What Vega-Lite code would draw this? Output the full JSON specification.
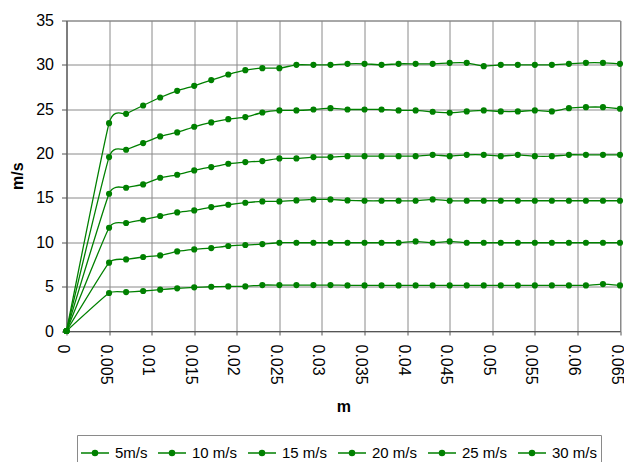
{
  "$schema": "https://vega.github.io/schema/vega-lite/v6.json",
  "autosize": {"type": "none"},
  "padding": {"left": 66.5, "top": 20.5, "right": 4, "bottom": 131},
  "width": 553.5,
  "height": 310.5,
  "background": "#ffffff",
  "config": {
    "font": "Liberation Sans",
    "view": {"stroke": "#8a8a8a", "strokeWidth": 1},
    "axis": {
      "labelFont": "Liberation Sans",
      "labelFontSize": 16,
      "labelColor": "#000000",
      "titleFont": "Liberation Sans",
      "titleFontSize": 16,
      "titleFontWeight": "bold",
      "titleColor": "#000000",
      "gridColor": "#8a8a8a",
      "gridOpacity": 1,
      "gridWidth": 1,
      "domainColor": "#555555",
      "tickColor": "#555555",
      "tickSize": 5
    }
  },
  "data": {
    "values": [
      {"m": 0, "series": "5m/s", "v": 0},
      {"m": 0.005, "series": "5m/s", "v": 4.28},
      {"m": 0.007, "series": "5m/s", "v": 4.39},
      {"m": 0.009, "series": "5m/s", "v": 4.51},
      {"m": 0.011, "series": "5m/s", "v": 4.66},
      {"m": 0.013, "series": "5m/s", "v": 4.81},
      {"m": 0.015, "series": "5m/s", "v": 4.92},
      {"m": 0.017, "series": "5m/s", "v": 4.99},
      {"m": 0.019, "series": "5m/s", "v": 5.03},
      {"m": 0.021, "series": "5m/s", "v": 5.03},
      {"m": 0.023, "series": "5m/s", "v": 5.18},
      {"m": 0.025, "series": "5m/s", "v": 5.18},
      {"m": 0.027, "series": "5m/s", "v": 5.18},
      {"m": 0.029, "series": "5m/s", "v": 5.18},
      {"m": 0.031, "series": "5m/s", "v": 5.18},
      {"m": 0.033, "series": "5m/s", "v": 5.14},
      {"m": 0.035, "series": "5m/s", "v": 5.14},
      {"m": 0.037, "series": "5m/s", "v": 5.14},
      {"m": 0.039, "series": "5m/s", "v": 5.14},
      {"m": 0.041, "series": "5m/s", "v": 5.14},
      {"m": 0.043, "series": "5m/s", "v": 5.14},
      {"m": 0.045, "series": "5m/s", "v": 5.14},
      {"m": 0.047, "series": "5m/s", "v": 5.14},
      {"m": 0.049, "series": "5m/s", "v": 5.14},
      {"m": 0.051, "series": "5m/s", "v": 5.14},
      {"m": 0.053, "series": "5m/s", "v": 5.14},
      {"m": 0.055, "series": "5m/s", "v": 5.14},
      {"m": 0.057, "series": "5m/s", "v": 5.14},
      {"m": 0.059, "series": "5m/s", "v": 5.14},
      {"m": 0.061, "series": "5m/s", "v": 5.14},
      {"m": 0.063, "series": "5m/s", "v": 5.29},
      {"m": 0.065, "series": "5m/s", "v": 5.14},

      {"m": 0, "series": "10 m/s", "v": 0},
      {"m": 0.005, "series": "10 m/s", "v": 7.70},
      {"m": 0.007, "series": "10 m/s", "v": 8.07},
      {"m": 0.009, "series": "10 m/s", "v": 8.34},
      {"m": 0.011, "series": "10 m/s", "v": 8.52},
      {"m": 0.013, "series": "10 m/s", "v": 8.97},
      {"m": 0.015, "series": "10 m/s", "v": 9.20},
      {"m": 0.017, "series": "10 m/s", "v": 9.35},
      {"m": 0.019, "series": "10 m/s", "v": 9.58},
      {"m": 0.021, "series": "10 m/s", "v": 9.69},
      {"m": 0.023, "series": "10 m/s", "v": 9.80},
      {"m": 0.025, "series": "10 m/s", "v": 9.95},
      {"m": 0.027, "series": "10 m/s", "v": 9.95},
      {"m": 0.029, "series": "10 m/s", "v": 9.95},
      {"m": 0.031, "series": "10 m/s", "v": 9.95},
      {"m": 0.033, "series": "10 m/s", "v": 9.95},
      {"m": 0.035, "series": "10 m/s", "v": 9.95},
      {"m": 0.037, "series": "10 m/s", "v": 9.95},
      {"m": 0.039, "series": "10 m/s", "v": 9.95},
      {"m": 0.041, "series": "10 m/s", "v": 10.10},
      {"m": 0.043, "series": "10 m/s", "v": 9.95},
      {"m": 0.045, "series": "10 m/s", "v": 10.10},
      {"m": 0.047, "series": "10 m/s", "v": 9.95},
      {"m": 0.049, "series": "10 m/s", "v": 9.95},
      {"m": 0.051, "series": "10 m/s", "v": 9.95},
      {"m": 0.053, "series": "10 m/s", "v": 9.95},
      {"m": 0.055, "series": "10 m/s", "v": 9.95},
      {"m": 0.057, "series": "10 m/s", "v": 9.95},
      {"m": 0.059, "series": "10 m/s", "v": 9.95},
      {"m": 0.061, "series": "10 m/s", "v": 9.95},
      {"m": 0.063, "series": "10 m/s", "v": 9.95},
      {"m": 0.065, "series": "10 m/s", "v": 9.95},

      {"m": 0, "series": "15 m/s", "v": 0},
      {"m": 0.005, "series": "15 m/s", "v": 11.64},
      {"m": 0.007, "series": "15 m/s", "v": 12.17},
      {"m": 0.009, "series": "15 m/s", "v": 12.54},
      {"m": 0.011, "series": "15 m/s", "v": 12.96},
      {"m": 0.013, "series": "15 m/s", "v": 13.37},
      {"m": 0.015, "series": "15 m/s", "v": 13.59},
      {"m": 0.017, "series": "15 m/s", "v": 13.97},
      {"m": 0.019, "series": "15 m/s", "v": 14.23},
      {"m": 0.021, "series": "15 m/s", "v": 14.46},
      {"m": 0.023, "series": "15 m/s", "v": 14.61},
      {"m": 0.025, "series": "15 m/s", "v": 14.61},
      {"m": 0.027, "series": "15 m/s", "v": 14.72},
      {"m": 0.029, "series": "15 m/s", "v": 14.83},
      {"m": 0.031, "series": "15 m/s", "v": 14.83},
      {"m": 0.033, "series": "15 m/s", "v": 14.72},
      {"m": 0.035, "series": "15 m/s", "v": 14.68},
      {"m": 0.037, "series": "15 m/s", "v": 14.68},
      {"m": 0.039, "series": "15 m/s", "v": 14.68},
      {"m": 0.041, "series": "15 m/s", "v": 14.68},
      {"m": 0.043, "series": "15 m/s", "v": 14.83},
      {"m": 0.045, "series": "15 m/s", "v": 14.68},
      {"m": 0.047, "series": "15 m/s", "v": 14.68},
      {"m": 0.049, "series": "15 m/s", "v": 14.68},
      {"m": 0.051, "series": "15 m/s", "v": 14.68},
      {"m": 0.053, "series": "15 m/s", "v": 14.68},
      {"m": 0.055, "series": "15 m/s", "v": 14.68},
      {"m": 0.057, "series": "15 m/s", "v": 14.68},
      {"m": 0.059, "series": "15 m/s", "v": 14.68},
      {"m": 0.061, "series": "15 m/s", "v": 14.68},
      {"m": 0.063, "series": "15 m/s", "v": 14.68},
      {"m": 0.065, "series": "15 m/s", "v": 14.68},

      {"m": 0, "series": "20 m/s", "v": 0},
      {"m": 0.005, "series": "20 m/s", "v": 15.47},
      {"m": 0.007, "series": "20 m/s", "v": 16.15},
      {"m": 0.009, "series": "20 m/s", "v": 16.52},
      {"m": 0.011, "series": "20 m/s", "v": 17.27},
      {"m": 0.013, "series": "20 m/s", "v": 17.61},
      {"m": 0.015, "series": "20 m/s", "v": 18.10},
      {"m": 0.017, "series": "20 m/s", "v": 18.48},
      {"m": 0.019, "series": "20 m/s", "v": 18.85},
      {"m": 0.021, "series": "20 m/s", "v": 19.04},
      {"m": 0.023, "series": "20 m/s", "v": 19.15},
      {"m": 0.025, "series": "20 m/s", "v": 19.45},
      {"m": 0.027, "series": "20 m/s", "v": 19.45},
      {"m": 0.029, "series": "20 m/s", "v": 19.60},
      {"m": 0.031, "series": "20 m/s", "v": 19.60},
      {"m": 0.033, "series": "20 m/s", "v": 19.71},
      {"m": 0.035, "series": "20 m/s", "v": 19.71},
      {"m": 0.037, "series": "20 m/s", "v": 19.71},
      {"m": 0.039, "series": "20 m/s", "v": 19.71},
      {"m": 0.041, "series": "20 m/s", "v": 19.71},
      {"m": 0.043, "series": "20 m/s", "v": 19.86},
      {"m": 0.045, "series": "20 m/s", "v": 19.71},
      {"m": 0.047, "series": "20 m/s", "v": 19.86},
      {"m": 0.049, "series": "20 m/s", "v": 19.86},
      {"m": 0.051, "series": "20 m/s", "v": 19.71},
      {"m": 0.053, "series": "20 m/s", "v": 19.86},
      {"m": 0.055, "series": "20 m/s", "v": 19.71},
      {"m": 0.057, "series": "20 m/s", "v": 19.71},
      {"m": 0.059, "series": "20 m/s", "v": 19.86},
      {"m": 0.061, "series": "20 m/s", "v": 19.86},
      {"m": 0.063, "series": "20 m/s", "v": 19.86},
      {"m": 0.065, "series": "20 m/s", "v": 19.86},

      {"m": 0, "series": "25 m/s", "v": 0},
      {"m": 0.005, "series": "25 m/s", "v": 19.60},
      {"m": 0.007, "series": "25 m/s", "v": 20.43},
      {"m": 0.009, "series": "25 m/s", "v": 21.18},
      {"m": 0.011, "series": "25 m/s", "v": 21.93},
      {"m": 0.013, "series": "25 m/s", "v": 22.38},
      {"m": 0.015, "series": "25 m/s", "v": 23.02},
      {"m": 0.017, "series": "25 m/s", "v": 23.51},
      {"m": 0.019, "series": "25 m/s", "v": 23.88},
      {"m": 0.021, "series": "25 m/s", "v": 24.11},
      {"m": 0.023, "series": "25 m/s", "v": 24.63},
      {"m": 0.025, "series": "25 m/s", "v": 24.86},
      {"m": 0.027, "series": "25 m/s", "v": 24.86},
      {"m": 0.029, "series": "25 m/s", "v": 24.97},
      {"m": 0.031, "series": "25 m/s", "v": 25.12},
      {"m": 0.033, "series": "25 m/s", "v": 24.97},
      {"m": 0.035, "series": "25 m/s", "v": 24.97},
      {"m": 0.037, "series": "25 m/s", "v": 24.97},
      {"m": 0.039, "series": "25 m/s", "v": 24.86},
      {"m": 0.041, "series": "25 m/s", "v": 24.86},
      {"m": 0.043, "series": "25 m/s", "v": 24.71},
      {"m": 0.045, "series": "25 m/s", "v": 24.60},
      {"m": 0.047, "series": "25 m/s", "v": 24.75},
      {"m": 0.049, "series": "25 m/s", "v": 24.86},
      {"m": 0.051, "series": "25 m/s", "v": 24.75},
      {"m": 0.053, "series": "25 m/s", "v": 24.75},
      {"m": 0.055, "series": "25 m/s", "v": 24.86},
      {"m": 0.057, "series": "25 m/s", "v": 24.75},
      {"m": 0.059, "series": "25 m/s", "v": 25.12},
      {"m": 0.061, "series": "25 m/s", "v": 25.23},
      {"m": 0.063, "series": "25 m/s", "v": 25.23},
      {"m": 0.065, "series": "25 m/s", "v": 25.05},

      {"m": 0, "series": "30 m/s", "v": 0},
      {"m": 0.005, "series": "30 m/s", "v": 23.43},
      {"m": 0.007, "series": "30 m/s", "v": 24.48},
      {"m": 0.009, "series": "30 m/s", "v": 25.42},
      {"m": 0.011, "series": "30 m/s", "v": 26.32},
      {"m": 0.013, "series": "30 m/s", "v": 27.07},
      {"m": 0.015, "series": "30 m/s", "v": 27.64},
      {"m": 0.017, "series": "30 m/s", "v": 28.28},
      {"m": 0.019, "series": "30 m/s", "v": 28.91},
      {"m": 0.021, "series": "30 m/s", "v": 29.40},
      {"m": 0.023, "series": "30 m/s", "v": 29.63},
      {"m": 0.025, "series": "30 m/s", "v": 29.63},
      {"m": 0.027, "series": "30 m/s", "v": 30.00},
      {"m": 0.029, "series": "30 m/s", "v": 30.00},
      {"m": 0.031, "series": "30 m/s", "v": 30.00},
      {"m": 0.033, "series": "30 m/s", "v": 30.12},
      {"m": 0.035, "series": "30 m/s", "v": 30.12},
      {"m": 0.037, "series": "30 m/s", "v": 30.00},
      {"m": 0.039, "series": "30 m/s", "v": 30.12},
      {"m": 0.041, "series": "30 m/s", "v": 30.12},
      {"m": 0.043, "series": "30 m/s", "v": 30.12},
      {"m": 0.045, "series": "30 m/s", "v": 30.23},
      {"m": 0.047, "series": "30 m/s", "v": 30.23},
      {"m": 0.049, "series": "30 m/s", "v": 29.85},
      {"m": 0.051, "series": "30 m/s", "v": 30.00},
      {"m": 0.053, "series": "30 m/s", "v": 30.00},
      {"m": 0.055, "series": "30 m/s", "v": 30.00},
      {"m": 0.057, "series": "30 m/s", "v": 30.00},
      {"m": 0.059, "series": "30 m/s", "v": 30.12},
      {"m": 0.061, "series": "30 m/s", "v": 30.23},
      {"m": 0.063, "series": "30 m/s", "v": 30.23},
      {"m": 0.065, "series": "30 m/s", "v": 30.12}
    ]
  },
  "encoding": {
    "x": {
      "field": "m",
      "type": "quantitative",
      "title": "m",
      "scale": {"domain": [0, 0.065], "nice": false, "zero": false},
      "axis": {
        "values": [0, 0.005, 0.01, 0.015, 0.02, 0.025, 0.03, 0.035, 0.04, 0.045, 0.05, 0.055, 0.06, 0.065],
        "format": "~g",
        "labelAngle": 90,
        "labelAlign": "left",
        "labelBaseline": "middle",
        "labelOffset": -4,
        "labelPadding": 9,
        "tickSize": 4,
        "titlePadding": 14,
        "labelFlush": false,
        "labelOverlap": false
      }
    },
    "y": {
      "field": "v",
      "type": "quantitative",
      "title": "m/s",
      "scale": {"domain": [0, 35], "nice": false},
      "axis": {
        "values": [0, 5, 10, 15, 20, 25, 30, 35],
        "labelPadding": 8,
        "titlePadding": 10,
        "labelFlush": false
      }
    }
  },
  "layer": [
    {
      "mark": {"type": "line", "interpolate": "cardinal", "tension": 0.55, "strokeWidth": 1.3},
      "encoding": {
        "color": {
          "field": "series",
          "type": "nominal",
          "scale": {
            "domain": ["5m/s", "10 m/s", "15 m/s", "20 m/s", "25 m/s", "30 m/s"],
            "range": ["#008000", "#008000", "#008000", "#008000", "#008000", "#008000"]
          },
          "legend": {
            "orient": "none",
            "legendX": 10.5,
            "legendY": 414.5,
            "direction": "horizontal",
            "title": null,
            "symbolType": "M-1,0H1M-0.18,0A0.18,0.18 0 1 1 0.18,0A0.18,0.18 0 1 1 -0.18,0Z",
            "symbolSize": 784,
            "symbolStrokeWidth": 1.5,
            "symbolStrokeColor": "#008000",
            "symbolFillColor": "#008000",
            "labelFont": "Liberation Sans",
            "labelFontSize": 15,
            "labelColor": "#000000",
            "labelOffset": 5,
            "columnPadding": 7,
            "padding": 3,
            "strokeColor": "#8a8a8a",
            "encode": {
              "symbols": {"update": {"fill": {"value": "#008000"}, "stroke": {"value": "#008000"}}}
            }
          }
        }
      }
    },
    {
      "mark": {"type": "point", "filled": true, "size": 38, "opacity": 1, "color": "#008000"},
      "encoding": {"detail": {"field": "series", "type": "nominal"}}
    }
  ]
}
